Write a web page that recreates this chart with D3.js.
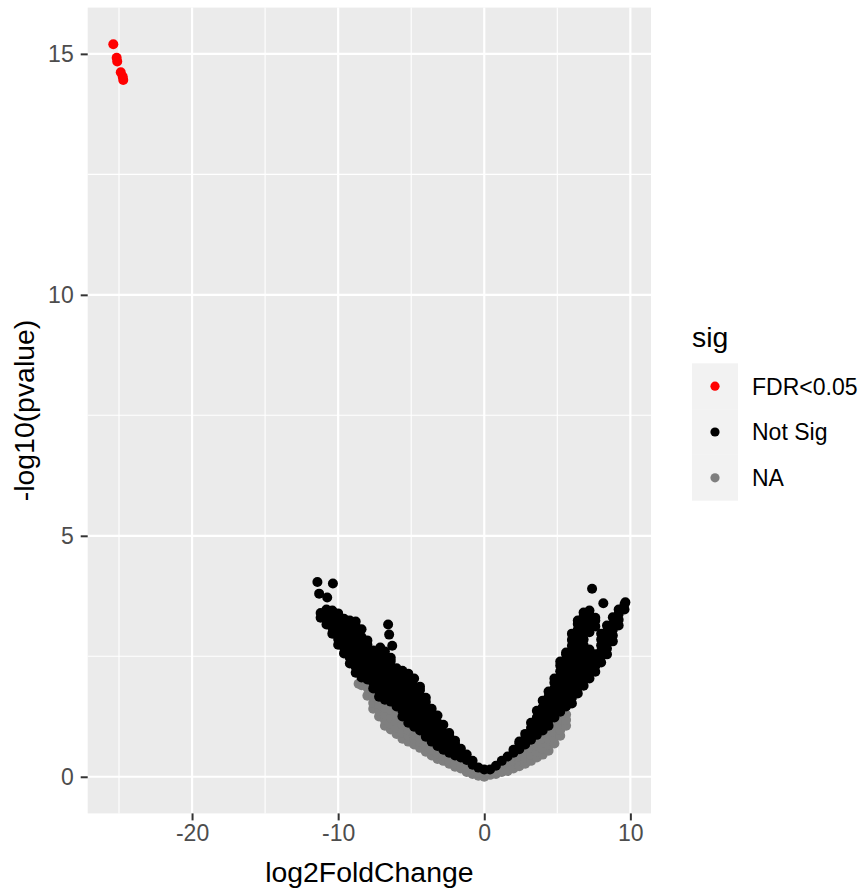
<!DOCTYPE html>
<html>
<head>
<meta charset="utf-8">
<script src="https://cdn.jsdelivr.net/npm/d3@7"></script>
<style>
  html, body { margin: 0; padding: 0; background: #ffffff; }
  svg { display: block; font-family: "Liberation Sans", Arial, sans-serif; }
</style>
</head>
<body>
<svg id="chart" width="868" height="896"></svg>
<script>
// ---------------- data ----------------
const categories = ["FDR<0.05", "Not Sig", "NA"];
const categoryColors = ["#FF0000", "#000000", "#7F7F7F"];

// FDR<0.05 points (log2FoldChange, -log10 pvalue)
const sigX = [-25.39, -25.16, -25.12, -24.88, -24.75, -24.71];
const sigY = [15.20, 14.92, 14.84, 14.62, 14.53, 14.46];

// Not Sig points, grouped by log2FoldChange: [x, [-log10 p values]]
const notSigColumns = [
  [-11.2, [3.30, 3.40]],
  [-10.8, [3.16, 3.28, 3.40, 3.47]],
  [-10.4, [2.97, 3.09, 3.21, 3.33, 3.45]],
  [-10.0, [2.74, 2.86, 2.98, 3.10, 3.22, 3.34, 3.39]],
  [-9.6, [2.56, 2.68, 2.80, 2.92, 3.04, 3.16, 3.28]],
  [-9.2, [2.35, 2.47, 2.59, 2.71, 2.83, 2.95, 3.07, 3.19, 3.24]],
  [-8.8, [2.16, 2.28, 2.40, 2.52, 2.64, 2.76, 2.88, 3.00, 3.12, 3.22]],
  [-8.4, [2.06, 2.18, 2.30, 2.42, 2.54, 2.66, 2.78, 2.90, 3.06]],
  [-8.0, [2.02, 2.14, 2.26, 2.38, 2.50, 2.62, 2.74, 2.83]],
  [-7.6, [1.83, 1.95, 2.07, 2.19, 2.31, 2.43, 2.55, 2.62]],
  [-7.2, [1.66, 1.78, 1.90, 2.02, 2.14, 2.26, 2.38, 2.50, 2.62]],
  [-6.8, [1.60, 1.72, 1.84, 1.96, 2.08, 2.20, 2.32, 2.44, 2.60]],
  [-6.4, [1.56, 1.68, 1.80, 1.92, 2.04, 2.16, 2.28, 2.40, 2.47]],
  [-6.0, [1.46, 1.58, 1.70, 1.82, 1.94, 2.06, 2.18, 2.25]],
  [-5.6, [1.25, 1.37, 1.49, 1.61, 1.73, 1.85, 1.97, 2.09, 2.20]],
  [-5.2, [1.12, 1.24, 1.36, 1.48, 1.60, 1.72, 1.84, 1.96, 2.08, 2.14]],
  [-4.8, [1.04, 1.16, 1.28, 1.40, 1.52, 1.64, 1.76, 1.88, 2.04]],
  [-4.4, [0.96, 1.08, 1.20, 1.32, 1.44, 1.56, 1.68, 1.80, 1.87]],
  [-4.0, [0.83, 0.95, 1.07, 1.19, 1.31, 1.43, 1.55, 1.64]],
  [-3.6, [0.73, 0.85, 0.97, 1.09, 1.21, 1.33, 1.41]],
  [-3.2, [0.64, 0.76, 0.88, 1.00, 1.12, 1.27]],
  [-2.8, [0.56, 0.68, 0.80, 0.92, 1.08]],
  [-2.4, [0.50, 0.62, 0.74, 0.86, 0.91]],
  [-2.0, [0.44, 0.56, 0.68, 0.75]],
  [-1.6, [0.40, 0.50, 0.58]],
  [-1.2, [0.35, 0.46]],
  [-0.8, [0.25, 0.33]],
  [-0.4, [0.19]],
  [0.0, [0.15]],
  [0.4, [0.15]],
  [0.8, [0.23]],
  [1.2, [0.33]],
  [1.6, [0.42]],
  [2.0, [0.50, 0.56]],
  [2.4, [0.57, 0.69, 0.73]],
  [2.8, [0.67, 0.79, 0.89]],
  [3.2, [0.77, 0.89, 1.01, 1.12]],
  [3.6, [0.87, 0.99, 1.11, 1.23, 1.37]],
  [4.0, [0.96, 1.08, 1.20, 1.32, 1.44, 1.58]],
  [4.4, [1.06, 1.18, 1.30, 1.42, 1.54, 1.66, 1.77]],
  [4.8, [1.23, 1.35, 1.47, 1.59, 1.71, 1.83, 1.95, 2.04]],
  [5.2, [1.35, 1.47, 1.59, 1.71, 1.83, 1.95, 2.07, 2.19, 2.31, 2.39]],
  [5.6, [1.46, 1.58, 1.70, 1.82, 1.94, 2.06, 2.18, 2.30, 2.42, 2.54, 2.58]],
  [6.0, [1.52, 1.64, 1.76, 1.88, 2.00, 2.12, 2.24, 2.36, 2.48, 2.60, 2.72, 2.84, 2.97]],
  [6.4, [1.73, 1.85, 1.97, 2.09, 2.21, 2.33, 2.45, 2.57, 2.69, 2.81, 2.93, 3.05, 3.17, 3.24]],
  [6.8, [1.89, 2.01, 2.13, 2.25, 2.37, 2.49, 2.61, 2.73, 2.85, 2.97, 3.09, 3.21, 3.33, 3.41]],
  [7.2, [2.04, 2.16, 2.28, 2.40, 2.52, 2.64, 3.00, 3.12, 3.24, 3.36, 3.45]],
  [7.6, [2.18, 2.30, 2.42, 2.54, 3.12, 3.24, 3.30]],
  [8.0, [2.37, 2.49, 2.61, 2.73, 2.85, 2.97]],
  [8.4, [2.54, 2.66, 2.78, 2.90, 3.02, 3.14]],
  [8.8, [2.81, 2.93, 3.05, 3.17, 3.31]],
  [9.2, [3.14, 3.26, 3.38, 3.47]],
  [9.6, [3.47, 3.58]]
];
// isolated Not Sig points
const notSigExtraX = [-11.42, -10.36, -11.30, -10.75, -6.58, -6.51, -6.30, -7.12, 7.38, 8.15, 9.66];
const notSigExtraY = [4.04, 4.01, 3.80, 3.72, 3.16, 2.95, 2.72, 2.68, 3.90, 3.60, 3.62];

// NA points, grouped by log2FoldChange
const naColumns = [
  [-8.6, [1.93]],
  [-8.4, [1.90]],
  [-8.0, [1.68, 1.85]],
  [-7.6, [1.41, 1.53, 1.66]],
  [-7.2, [1.25, 1.37, 1.50]],
  [-6.8, [1.06, 1.18, 1.30, 1.43]],
  [-6.4, [0.98, 1.10, 1.22, 1.39]],
  [-6.0, [0.89, 1.01, 1.13, 1.29]],
  [-5.6, [0.79, 0.91, 1.08]],
  [-5.2, [0.73, 0.85, 0.96]],
  [-4.8, [0.67, 0.79, 0.87]],
  [-4.4, [0.60, 0.72, 0.79]],
  [-4.0, [0.52, 0.64]],
  [-3.6, [0.44, 0.56]],
  [-3.2, [0.37, 0.48]],
  [-2.8, [0.33, 0.42]],
  [-2.4, [0.27, 0.33]],
  [-2.0, [0.21, 0.27]],
  [-1.6, [0.17, 0.23]],
  [-1.2, [0.10, 0.19]],
  [-0.8, [0.06, 0.15]],
  [-0.4, [0.02, 0.08]],
  [0.0, [0.00]],
  [0.4, [0.04]],
  [0.8, [0.06, 0.12]],
  [1.2, [0.10, 0.21]],
  [1.6, [0.12, 0.27]],
  [2.0, [0.17, 0.33]],
  [2.4, [0.22, 0.33, 0.41]],
  [2.8, [0.27, 0.39, 0.50]],
  [3.2, [0.33, 0.45, 0.60]],
  [3.6, [0.40, 0.52, 0.64, 0.71]],
  [4.0, [0.46, 0.58, 0.70, 0.79]],
  [4.4, [0.54, 0.66, 0.78, 0.89]],
  [4.8, [0.69, 0.81, 0.93, 1.06]],
  [5.2, [0.85, 0.97, 1.10, 1.19]],
  [5.6, [1.06, 1.18, 1.29]]
];

const xTicks = [-20, -10, 0, 10];
const xTickLabels = ["-20", "-10", "0", "10"];
const xMinor = [-25, -15, -5, 5];
const yTicks = [0, 5, 10, 15];
const yTickLabels = ["0", "5", "10", "15"];
const yMinor = [2.5, 7.5, 12.5];
const xTitle = "log2FoldChange";
const yTitle = "-log10(pvalue)";
const legendTitle = "sig";

// ---------------- build point table ----------------
const points = [];
naColumns.forEach(([x, ys]) => ys.forEach(y => points.push({x, y, c: 2})));
notSigColumns.forEach(([x, ys]) => ys.forEach(y => points.push({x, y, c: 1})));
notSigExtraX.forEach((x, i) => points.push({x, y: notSigExtraY[i], c: 1}));
sigX.forEach((x, i) => points.push({x, y: sigY[i], c: 0}));

// ---------------- layout ----------------
const panel = {left: 87.7, right: 651, top: 7.6, bottom: 813.4};
const ptR = 5.0;
const keyR = 4.6;

const xExt = d3.extent(points, d => d.x);
const yExt = d3.extent(points, d => d.y);
const xPad = (xExt[1] - xExt[0]) * 0.05, yPad = (yExt[1] - yExt[0]) * 0.05;

const x = d3.scaleLinear().domain([xExt[0] - xPad, xExt[1] + xPad]).range([panel.left, panel.right]);
const y = d3.scaleLinear().domain([yExt[0] - yPad, yExt[1] + yPad]).range([panel.bottom, panel.top]);

const svg = d3.select("#chart");

svg.append("rect")
  .attr("x", panel.left).attr("y", panel.top)
  .attr("width", panel.right - panel.left).attr("height", panel.bottom - panel.top)
  .attr("fill", "#EBEBEB");

const grid = svg.append("g");
grid.selectAll(".xmin").data(xMinor).join("line")
  .attr("x1", d => x(d)).attr("x2", d => x(d))
  .attr("y1", panel.top).attr("y2", panel.bottom)
  .attr("stroke", "#FFFFFF").attr("stroke-width", 1.1);
grid.selectAll(".ymin").data(yMinor).join("line")
  .attr("y1", d => y(d)).attr("y2", d => y(d))
  .attr("x1", panel.left).attr("x2", panel.right)
  .attr("stroke", "#FFFFFF").attr("stroke-width", 1.1);
grid.selectAll(".xmaj").data(xTicks).join("line")
  .attr("x1", d => x(d)).attr("x2", d => x(d))
  .attr("y1", panel.top).attr("y2", panel.bottom)
  .attr("stroke", "#FFFFFF").attr("stroke-width", 2.2);
grid.selectAll(".ymaj").data(yTicks).join("line")
  .attr("y1", d => y(d)).attr("y2", d => y(d))
  .attr("x1", panel.left).attr("x2", panel.right)
  .attr("stroke", "#FFFFFF").attr("stroke-width", 2.2);

// points
svg.append("g").selectAll("circle").data(points).join("circle")
  .attr("cx", d => x(d.x)).attr("cy", d => y(d.y))
  .attr("r", ptR)
  .attr("fill", d => categoryColors[d.c]);

// axes
const xAxis = d3.axisBottom(x).tickValues(xTicks).tickFormat((d, i) => xTickLabels[i])
  .tickSizeInner(7).tickSizeOuter(0).tickPadding(4);
const gx = svg.append("g").attr("transform", `translate(0,${panel.bottom})`).call(xAxis);
gx.select(".domain").remove();
gx.selectAll(".tick line").attr("stroke", "#333333").attr("stroke-width", 2);
gx.selectAll(".tick text").attr("fill", "#4D4D4D").attr("font-size", 23)
  .attr("font-family", "Liberation Sans, Arial, sans-serif");

const yAxis = d3.axisLeft(y).tickValues(yTicks).tickFormat((d, i) => yTickLabels[i])
  .tickSizeInner(7).tickSizeOuter(0).tickPadding(7);
const gy = svg.append("g").attr("transform", `translate(${panel.left},0)`).call(yAxis);
gy.select(".domain").remove();
gy.selectAll(".tick line").attr("stroke", "#333333").attr("stroke-width", 2);
gy.selectAll(".tick text").attr("fill", "#4D4D4D").attr("font-size", 23)
  .attr("font-family", "Liberation Sans, Arial, sans-serif");

// axis titles
svg.append("text")
  .attr("x", (panel.left + panel.right) / 2).attr("y", 881.5)
  .attr("text-anchor", "middle").attr("font-size", 28.4).attr("fill", "#000")
  .text(xTitle);
svg.append("text")
  .attr("transform", `translate(34,${(panel.top + panel.bottom) / 2}) rotate(-90)`)
  .attr("text-anchor", "middle").attr("font-size", 28.4).attr("fill", "#000")
  .text(yTitle);

// legend
const lg = svg.append("g");
lg.append("text").attr("x", 692).attr("y", 347).attr("font-size", 28.4).attr("fill", "#000").text(legendTitle);
const keyH = 45.8, keyTop = 363.3, keyX = 692, keyW = 46;
categories.forEach((cat, i) => {
  const cy = keyTop + keyH * i + keyH / 2;
  lg.append("rect").attr("x", keyX).attr("y", keyTop + keyH * i)
    .attr("width", keyW).attr("height", keyH).attr("fill", "#F2F2F2");
  lg.append("circle").attr("cx", keyX + keyW / 2).attr("cy", cy).attr("r", keyR)
    .attr("fill", categoryColors[i]);
  lg.append("text").attr("x", 752).attr("y", cy + 8.3)
    .attr("font-size", 23).attr("fill", "#000").text(cat);
});
</script>
</body>
</html>
